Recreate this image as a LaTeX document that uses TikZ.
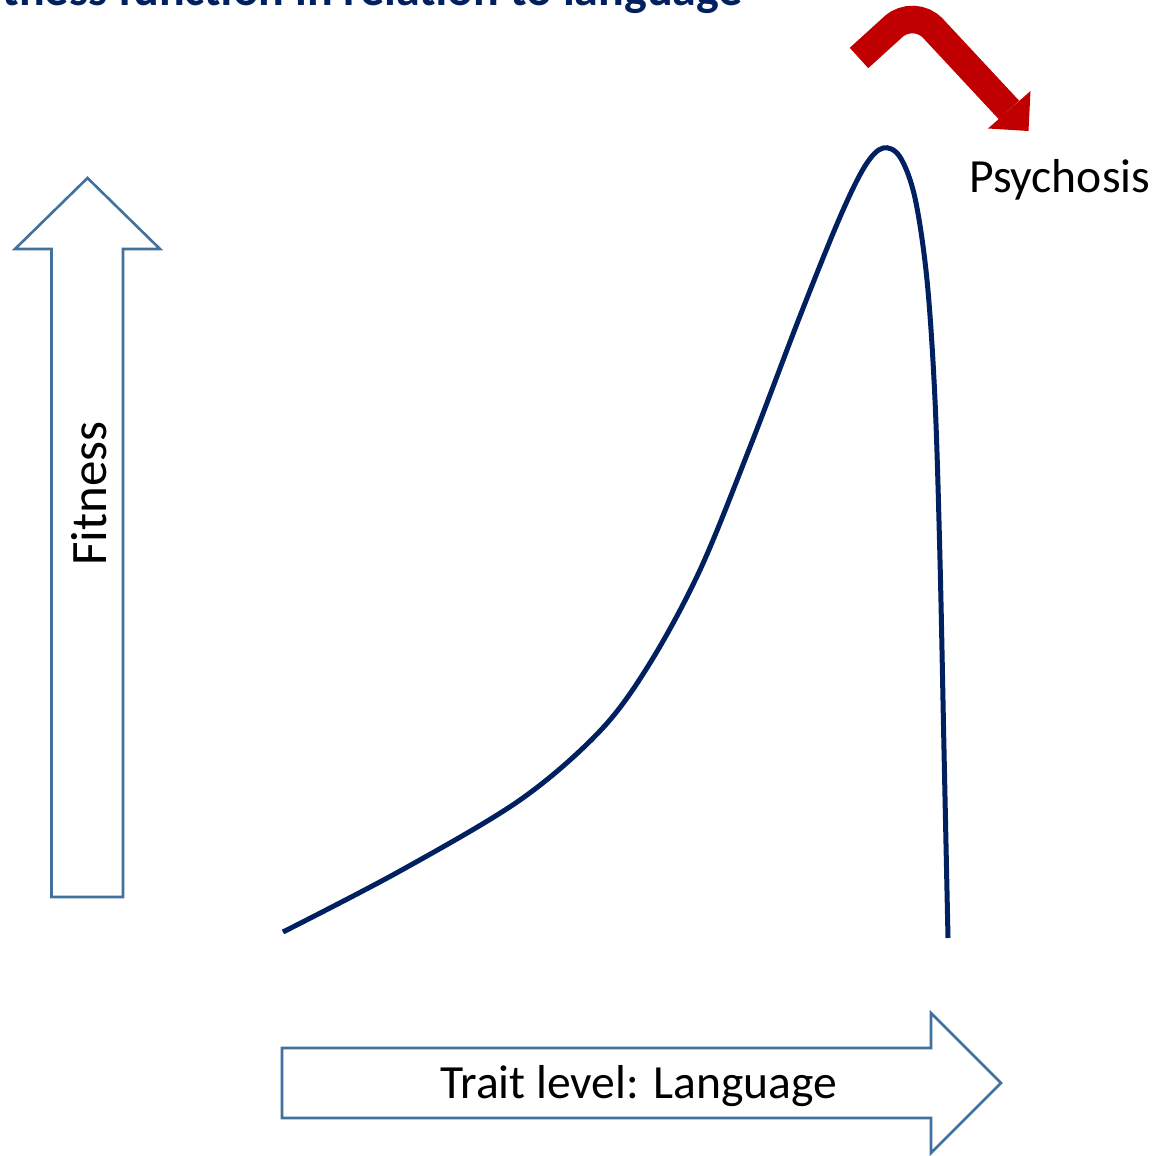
\documentclass[tikz,border=0pt]{standalone}
\usepackage{fontspec}
\setmainfont{Carlito}
\definecolor{navy}{HTML}{002060}
\definecolor{steel}{HTML}{41719C}
\definecolor{alarm}{HTML}{C00000}
\begin{document}
\begin{tikzpicture}[x=1pt,y=-1pt,
  axisarrow/.style={draw=steel,line width=2.6pt,line join=miter,fill=white},
  label/.style={inner sep=0pt,font=\fontsize{47.6}{57}\selectfont},
  curve/.style={draw=navy,line width=5pt}]
\useasboundingbox (0,0) rectangle (1157,1156);

% title, partly outside the page
\node[inner sep=0pt,anchor=base east,text=navy,font=\bfseries\fontsize{48}{58}\selectfont]
  (title) at (743,6) {Fitness function in relation to language};

% vertical axis arrow
\draw[axisarrow] (51.5,897) -- (51.5,249) -- (15,249) -- (87.5,178) -- (160,249)
  -- (123,249) -- (123,897) -- cycle;
\node[label,rotate=90,anchor=base west,font=\fontsize{51}{60}\selectfont] (fitness) at (106,566) {Fitness};

% horizontal axis arrow
\draw[axisarrow] (282,1048) -- (931,1048) -- (931,1013) -- (1001,1083) -- (931,1153)
  -- (931,1118) -- (282,1118) -- cycle;
\node[label,anchor=base west] (trait) at (440,1098) {Trait level: Language};

% fitness curve
\draw[curve] plot[smooth,tension=0.55] coordinates {
  (283,932) (400,871) (520,800) (600,731) (650,663) (700,570) (750,447)
  (800,316) (840,217) (865,166) (883,148) (900,157) (915,198) (927,280)
  (935,400) (940,560) (944,750) (948,938)};

% tipping arrow
\coordinate (tail) at (859,58);
\coordinate (bend) at (914,8);
\coordinate (headbase) at (1009,110);
\draw[alarm,line width=27.5pt,rounded corners=28pt] (tail) -- (bend) -- (headbase);
\fill[alarm] (988,128.5) -- (1030.5,91) -- (1028.5,131) -- cycle;
\node[label,anchor=base west] (psychosis) at (969,192) {Psychosis};
\end{tikzpicture}
\end{document}
